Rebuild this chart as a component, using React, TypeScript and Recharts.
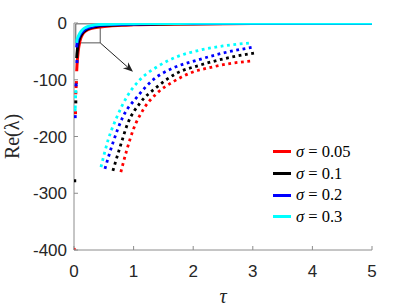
import {
  ComposedChart,
  LineChart,
  Line,
  Scatter,
  XAxis,
  YAxis,
  Legend,
  ReferenceArea,
  ReferenceLine,
} from "recharts"

// main curves, Re(lambda) vs tau
const tau = [0.045, 0.05, 0.07, 0.1, 0.15, 0.2, 0.3, 0.44, 0.6, 0.8, 1, 1.5, 2, 3, 4, 5]
const reRed = [-85, -75, -50, -31.8, -18.9, -13.7, -9.2, -6.9, -5.2, -4.0, -3.3, -2.3, -1.7, -1.1, -0.8, -0.6]
const reBlack = [-62, -55, -36, -25.6, -16.5, -12.3, -7.8, -5.0, -3.8, -2.9, -2.4, -1.6, -1.2, -0.8, -0.6, -0.45]
const reBlue = [-43, -37, -28, -20.4, -14.2, -10.2, -6.5, -3.6, -2.7, -2.0, -1.6, -1.1, -0.8, -0.5, -0.4, -0.3]
const reCyan = [-35, -30, -24, -17.5, -11, -7.6, -4.3, -2.6, -2.0, -1.5, -1.2, -0.8, -0.6, -0.4, -0.3, -0.25]

// isolated samples close to tau = 0
const dotTauRed = [0.04, 0.035, 0.03, 0.025, 0.002]
const dotReRed = [-105, -112, -123, -158, -399]
const dotTauBlack = [0.03, 0.012]
const dotReBlack = [-139, -278]
const dotTauBlue = [0.05, 0.035, 0.02]
const dotReBlue = [-68, -109, -165]
const dotTauCyan = [0.03, 0.025, 0.02, 0.018]
const dotReCyan = [-121, -130, -148, -153]

// zoomed inset (tau 0.03..0.44, Re -35..-1.5)
const inTauRed = [0.095, 0.11, 0.126, 0.151, 0.186, 0.226, 0.269, 0.327, 0.377, 0.427]
const inReRed = [-33.6, -28.3, -23.5, -18.7, -14.7, -12.0, -9.9, -8.4, -7.5, -7.0]
const inTauBlack = [0.075, 0.093, 0.113, 0.143, 0.186, 0.236, 0.294, 0.362, 0.43]
const inReBlack = [-33.3, -27.6, -21.8, -17.1, -13.2, -9.9, -8.0, -6.3, -5.1]
const inTauBlue = [0.055, 0.075, 0.1, 0.136, 0.176, 0.226, 0.287, 0.352, 0.427]
const inReBlue = [-32.8, -26.6, -20.4, -15.6, -11.5, -8.7, -6.8, -5.1, -3.7]
const inTauCyan = [0.045, 0.063, 0.085, 0.11, 0.143, 0.186, 0.236, 0.294, 0.352, 0.42]
const inReCyan = [-32.4, -25.9, -20.4, -15.6, -11.5, -8.4, -6.0, -4.4, -3.4, -2.7]

const sigmaLabels = ["0.05", "0.1", "0.2", "0.3"]
const colors = ["#ff0000", "#000000", "#0000ff", "#00ffff"]
const xTicks = [0, 1, 2, 3, 4, 5]
const yTicks = [-400, -300, -200, -100, 0]

const zip = (t: number[], v: number[]) => t.map((x, i) => ({ t: x, v: v[i] }))

const mainSeries = [zip(tau, reRed), zip(tau, reBlack), zip(tau, reBlue), zip(tau, reCyan)]
const dotSeries = [
  zip(dotTauRed, dotReRed),
  zip(dotTauBlack, dotReBlack),
  zip(dotTauBlue, dotReBlue),
  zip(dotTauCyan, dotReCyan),
]
const insetSeries = [
  zip(inTauRed, inReRed),
  zip(inTauBlack, inReBlack),
  zip(inTauBlue, inReBlue),
  zip(inTauCyan, inReCyan),
]

const tickFont = { fontFamily: "Liberation Sans, Arial, sans-serif", fontSize: 17, fill: "#262626" }
const axisGray = "#8c8c8c"

const XTick = (p: any) => (
  <g>
    <line x1={p.x} y1={p.y} x2={p.x} y2={p.y - 4} stroke={axisGray} />
    <text x={p.x} y={p.y + 27} textAnchor="middle" {...tickFont}>
      {p.payload.value}
    </text>
  </g>
)

const YTick = (p: any) => (
  <g>
    <line x1={p.x} y1={p.y} x2={p.x + 4} y2={p.y} stroke={axisGray} />
    <text x={p.x - 7} y={p.y + 6} textAnchor="end" {...tickFont}>
      {p.payload.value}
    </text>
  </g>
)

const Arrow = (p: any) => {
  const { x1, y1, x2, y2 } = p
  const a = Math.atan2(y2 - y1, x2 - x1)
  const len = 10
  const w = 4
  const bx = x2 - len * Math.cos(a)
  const by = y2 - len * Math.sin(a)
  const nx = -Math.sin(a) * w
  const ny = Math.cos(a) * w
  const mx = x2 - 0.7 * len * Math.cos(a)
  const my = y2 - 0.7 * len * Math.sin(a)
  return (
    <g>
      <line x1={x1} y1={y1} x2={mx} y2={my} stroke="#222" strokeWidth={1} />
      <polygon
        points={`${x2},${y2} ${bx + nx},${by + ny} ${mx},${my} ${bx - nx},${by - ny}`}
        fill="#222"
      />
    </g>
  )
}

const LegendBox = () => (
  <div style={{ width: 110 }}>
    {sigmaLabels.map((s, i) => (
      <div key={s} style={{ display: "flex", alignItems: "center", height: 21.7 }}>
        <div style={{ width: 18, height: 3, background: colors[i], marginRight: 5 }} />
        <span style={{ fontFamily: "Liberation Serif, Times New Roman, serif", fontSize: 16.5, color: "#000", whiteSpace: "pre" }}>
          <i>σ</i>{" = " + s}
        </span>
      </div>
    ))}
  </div>
)

export default function App() {
  return (
    <div style={{ position: "absolute", left: 0, top: 0, width: 411, height: 308, background: "#fff" }}>
      <ComposedChart width={411} height={308} margin={{ top: 23, right: 39, bottom: 0, left: 0 }}>
        <XAxis
          dataKey="t"
          type="number"
          domain={[0, 5]}
          ticks={xTicks}
          height={58}
          tickSize={0}
          tickMargin={0}
          tickLine={false}
          tick={<XTick />}
          stroke={axisGray}
          allowDataOverflow
          label={{
            value: "τ",
            position: "insideBottom",
            offset: 5,
            style: { fontFamily: "Liberation Serif, serif", fontStyle: "italic", fontSize: 20, fill: "#262626" },
          }}
        />
        <YAxis
          dataKey="v"
          type="number"
          domain={[-400, 0]}
          ticks={yTicks}
          width={74}
          tickSize={0}
          tickMargin={0}
          tickLine={false}
          tick={<YTick />}
          stroke={axisGray}
          allowDataOverflow
          label={{
            value: "Re(λ)",
            angle: -90,
            position: "insideLeft",
            offset: 12,
            style: { textAnchor: "middle", fontFamily: "Liberation Serif, serif", fontSize: 20, fill: "#262626" },
          }}
        />
        {mainSeries.map((d, i) => (
          <Line
            key={"m" + i}
            data={d}
            dataKey="v"
            type="monotone"
            stroke={colors[i]}
            strokeWidth={3}
            dot={false}
            isAnimationActive={false}
          />
        ))}
        {dotSeries.map((d, i) => (
          <Scatter
            key={"d" + i}
            data={d}
            dataKey="v"
            isAnimationActive={false}
            shape={(p: any) => <rect x={p.cx - 1.5} y={p.cy - 1.5} width={3} height={3} fill={colors[i]} />}
          />
        ))}
        <ReferenceArea x1={0.03} x2={0.44} y1={-35} y2={-1.5} fill="none" fillOpacity={0} stroke="#555" strokeWidth={1} ifOverflow="visible" />
        <ReferenceLine segment={[{ x: 0.44, y: -35 }, { x: 0.99, y: -86 }]} ifOverflow="visible" shape={Arrow} />
        <Legend
          layout="vertical"
          align="center"
          verticalAlign="middle"
          content={<LegendBox />}
          wrapperStyle={{ left: 273, top: 141, width: 110 }}
        />
      </ComposedChart>
      <div style={{ position: "absolute", left: 0, top: 0, pointerEvents: "none" }}>
        <LineChart width={411} height={308} margin={{ top: 38, right: 153, bottom: 130, left: 95 }}>
          <XAxis dataKey="t" type="number" domain={[0.03, 0.44]} hide height={0} />
          <YAxis dataKey="v" type="number" domain={[-35, -1.5]} hide width={0} />
          {insetSeries.map((d, i) => (
            <Line
              key={"i" + i}
              data={d}
              dataKey="v"
              type="monotone"
              stroke={colors[i]}
              strokeWidth={2.8}
              strokeDasharray="2.8 3.6"
              dot={false}
              isAnimationActive={false}
            />
          ))}
        </LineChart>
      </div>
    </div>
  )
}
